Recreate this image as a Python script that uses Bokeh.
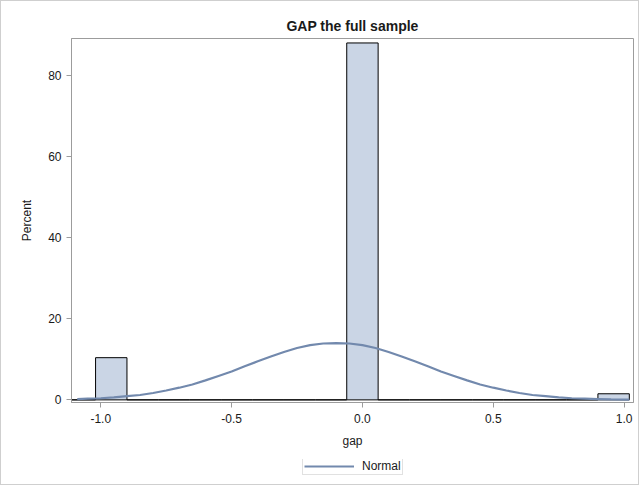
from bokeh.plotting import figure
from bokeh.layouts import column
from bokeh.models import Range1d, Legend, LegendItem, FixedTicker, ColumnDataSource
from bokeh.embed import file_html
from bokeh.resources import INLINE

# ---- data ----
bin_width = 0.12
bin_centers = [-1.08, -0.96, -0.84, -0.72, -0.60, -0.48, -0.36, -0.24, -0.12,
               0.00, 0.12, 0.24, 0.36, 0.48, 0.60, 0.72, 0.84, 0.96]
bin_percent = [0.0, 10.4, 0.0, 0.0, 0.0, 0.0, 0.0, 0.0, 0.0,
               88.0, 0.0, 0.0, 0.0, 0.0, 0.0, 0.0, 0.0, 1.5]

normal_x = [-1.09, -1.05, -1.00, -0.95, -0.90, -0.85, -0.80, -0.75, -0.70, -0.65,
            -0.60, -0.55, -0.50, -0.45, -0.40, -0.35, -0.30, -0.25, -0.20, -0.15,
            -0.10, -0.05, 0.00, 0.05, 0.10, 0.15, 0.20, 0.25, 0.30, 0.35,
            0.40, 0.45, 0.50, 0.55, 0.60, 0.65, 0.70, 0.75, 0.80, 0.85,
            0.90, 0.95, 1.02]
normal_y = [0.2, 0.3, 0.4, 0.6, 0.9, 1.2, 1.7, 2.3, 3.0, 3.8,
            4.8, 5.9, 7.0, 8.3, 9.5, 10.7, 11.8, 12.8, 13.5, 13.9,
            14.0, 13.9, 13.5, 12.8, 11.8, 10.7, 9.5, 8.3, 7.0, 5.9,
            4.8, 3.8, 3.0, 2.3, 1.7, 1.2, 0.9, 0.6, 0.4, 0.3,
            0.2, 0.1, 0.05]

x_ticks = [-1.0, -0.5, 0.0, 0.5, 1.0]
x_tick_labels = {-1.0: "-1.0", -0.5: "-0.5", 0.0: "0.0", 0.5: "0.5", 1.0: "1.0"}
y_ticks = [0, 20, 40, 60, 80]

title_text = "GAP the full sample"
x_label = "gap"
y_label = "Percent"
legend_label = "Normal"

FONT = "Liberation Sans"
TEXT = "#1a1a1a"
FRAME = "#9c9c9c"
CURVE = "#7289ad"

p = figure(width=637, height=458, output_backend="svg", toolbar_location=None,
           x_range=Range1d(-1.112, 1.036), y_range=Range1d(-0.65, 89.1),
           min_border_left=70, min_border_right=5, min_border_top=37,
           min_border_bottom=57, title=title_text)

p.title.align = "center"
p.title.text_font = FONT
p.title.text_font_size = "14px"
p.title.text_font_style = "bold"
p.title.text_color = TEXT

p.grid.visible = False
p.outline_line_color = FRAME
p.outline_line_width = 1

src = ColumnDataSource(dict(
    left=[c - bin_width / 2 for c in bin_centers],
    right=[c + bin_width / 2 for c in bin_centers],
    top=bin_percent,
))
p.quad(left="left", right="right", bottom=0, top="top", source=src,
       fill_color="#cad5e5", line_color="black", line_width=1)

p.line(normal_x, normal_y, line_color=CURVE, line_width=2.2)

for ax in (p.xaxis[0], p.yaxis[0]):
    ax.axis_line_color = FRAME
    ax.major_tick_line_color = FRAME
    ax.major_tick_out = 5
    ax.major_tick_in = 0
    ax.minor_tick_line_color = None
    ax.major_label_text_font = FONT
    ax.major_label_text_font_size = "12px"
    ax.major_label_text_color = TEXT
    ax.axis_label_text_font = FONT
    ax.axis_label_text_font_size = "12px"
    ax.axis_label_text_font_style = "normal"
    ax.axis_label_text_color = TEXT

p.xaxis.ticker = FixedTicker(ticks=x_ticks)
p.xaxis.major_label_overrides = x_tick_labels
p.xaxis.axis_label = x_label
p.xaxis.major_label_standoff = 6
p.xaxis.axis_label_standoff = 8

p.yaxis.ticker = FixedTicker(ticks=y_ticks)
p.yaxis.axis_label = y_label
p.yaxis.major_label_standoff = 5
p.yaxis.axis_label_standoff = 11

# ---- legend strip below the chart (frame aligned with the chart's frame) ----
p2 = figure(width=637, height=25, output_backend="svg", toolbar_location=None,
            min_border_left=70, min_border_right=5, min_border_top=0,
            min_border_bottom=0, x_range=Range1d(-1.112, 1.036),
            y_range=Range1d(100, 101))
p2.axis.visible = False
p2.grid.visible = False
p2.outline_line_color = None
key = p2.line(normal_x, normal_y, line_color=CURVE, line_width=2.2)

legend = Legend(items=[LegendItem(label=legend_label, renderers=[key])],
                location=(231, 9), orientation="horizontal")
legend.label_text_font = FONT
legend.label_text_font_size = "12px"
legend.label_text_color = TEXT
legend.border_line_color = "#c4c4c4"
legend.background_fill_alpha = 1.0
legend.glyph_width = 50
legend.glyph_height = 12
legend.padding = 1
legend.margin = 0
legend.spacing = 0
legend.label_standoff = 8
legend.label_height = 12
p2.add_layout(legend, "center")

layout = column(p, p2, spacing=0, styles={"border": "1px solid #cfcfcf"})

open("out.html", "w").write(file_html(layout, INLINE))
